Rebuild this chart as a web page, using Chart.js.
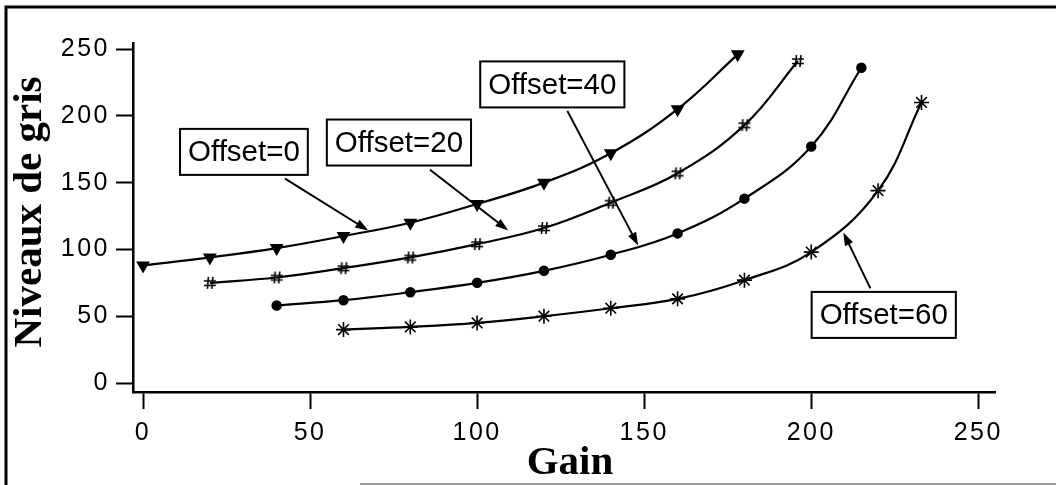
<!DOCTYPE html>
<html>
<head>
<meta charset="utf-8">
<script src="https://cdn.jsdelivr.net/npm/chart.js@4/dist/chart.umd.min.js"></script>
<style>
  html, body { margin: 0; padding: 0; background: #fff; }
  #wrap { width: 1056px; height: 485px; position: relative; }
</style>
</head>
<body>
<div id="wrap"><canvas id="myChart" width="1056" height="485"></canvas></div>
<script>
// values
const gain0 = [0, 20, 40, 60, 80, 100, 120, 140, 160, 178];
const niv0 = [88, 94, 101, 110, 120, 134, 150, 172, 205, 246];
const gain20 = [20, 40, 60, 80, 100, 120, 140, 160, 180, 196];
const niv20 = [75, 79, 86, 94, 104, 116, 135, 157, 193, 241];
const gain40 = [40, 60, 80, 100, 120, 140, 160, 180, 200, 215];
const niv40 = [58, 62, 68, 75, 84, 96, 112, 138, 177, 236];
const gain60 = [60, 80, 100, 120, 140, 160, 180, 200, 220, 233];
const niv60 = [40, 42, 45, 50, 56, 63, 77, 98, 144, 210];
const xTicks = [0, 50, 100, 150, 200, 250];
const yTicks = [0, 50, 100, 150, 200, 250];

// callout labels: box centre and arrow, in data units
const callouts = [
  { text: 'Offset=0',  cx: 30.2,  cy: 173,   from: [42.5, 153],   to: [67.4, 114.2] },
  { text: 'Offset=20', cx: 76.6,  cy: 180,   from: [85.9, 159.7], to: [109.3, 114.2] },
  { text: 'Offset=40', cx: 122.5, cy: 223.5, from: [127, 203.7],  to: [148.2, 103] },
  { text: 'Offset=60', cx: 221.7, cy: 51,    from: [217.7, 70.9], to: [209.6, 112.7] }
];

function toPoints(xs, ys) {
  return xs.map((x, i) => ({ x: x, y: ys[i] }));
}

function hashMarker() {
  const c = document.createElement('canvas');
  c.width = 14; c.height = 14;
  const g = c.getContext('2d');
  g.strokeStyle = '#000';
  g.lineWidth = 1.6;
  g.beginPath();
  g.moveTo(5.5, 1); g.lineTo(4.5, 13);
  g.moveTo(10, 1); g.lineTo(9, 13);
  g.moveTo(1, 5); g.lineTo(13, 5);
  g.moveTo(1, 9.5); g.lineTo(13, 9.5);
  g.stroke();
  return c;
}

function series(xs, ys, style) {
  return Object.assign({
    data: toPoints(xs, ys),
    borderColor: '#000',
    backgroundColor: '#000',
    borderWidth: 2.2,
    tension: 0.4,
    pointBorderColor: '#000',
    pointBackgroundColor: '#000',
    pointBorderWidth: 1.5
  }, style);
}

const decor = {
  id: 'decor',
  beforeDraw(chart) {
    chart.ctx.letterSpacing = '2.5px';
  },
  afterDraw(chart) {
    const ctx = chart.ctx;
    const sx = chart.scales.x, sy = chart.scales.y;
    ctx.save();
    ctx.letterSpacing = '0px';

    // frame around the figure
    ctx.strokeStyle = '#000';
    ctx.lineWidth = 3;
    ctx.beginPath();
    ctx.moveTo(6, 485); ctx.lineTo(6, 7); ctx.lineTo(1056, 7);
    ctx.stroke();
    ctx.strokeStyle = '#999';
    ctx.lineWidth = 2;
    ctx.beginPath();
    ctx.moveTo(360, 484); ctx.lineTo(1056, 484);
    ctx.stroke();

    // axis titles
    ctx.fillStyle = '#000';
    ctx.font = 'bold 41px "Liberation Serif", "Times New Roman", serif';
    ctx.textAlign = 'center';
    ctx.textBaseline = 'alphabetic';
    ctx.fillText('Gain', 570, 474);
    ctx.save();
    ctx.translate(41, 212);
    ctx.rotate(-Math.PI / 2);
    ctx.fillText('Niveaux de gris', 0, 0);
    ctx.restore();

    // callouts
    ctx.font = '29.5px "Liberation Sans", Arial, sans-serif';
    callouts.forEach(c => {
      const px = sx.getPixelForValue(c.cx), py = sy.getPixelForValue(c.cy);
      const w = ctx.measureText(c.text).width + 16, h = 46;
      ctx.fillStyle = '#fff';
      ctx.fillRect(px - w / 2, py - h / 2, w, h);
      ctx.strokeStyle = '#000';
      ctx.lineWidth = 2;
      ctx.strokeRect(px - w / 2, py - h / 2, w, h);
      ctx.fillStyle = '#000';
      ctx.textBaseline = 'middle';
      ctx.fillText(c.text, px, py + 1);

      const x1 = sx.getPixelForValue(c.from[0]), y1 = sy.getPixelForValue(c.from[1]);
      const x2 = sx.getPixelForValue(c.to[0]), y2 = sy.getPixelForValue(c.to[1]);
      const a = Math.atan2(y2 - y1, x2 - x1);
      ctx.lineWidth = 2;
      ctx.beginPath();
      ctx.moveTo(x1, y1); ctx.lineTo(x2 - 8 * Math.cos(a), y2 - 8 * Math.sin(a));
      ctx.stroke();
      ctx.beginPath();
      ctx.moveTo(x2, y2);
      ctx.lineTo(x2 - 13 * Math.cos(a) + 4.5 * Math.sin(a), y2 - 13 * Math.sin(a) - 4.5 * Math.cos(a));
      ctx.lineTo(x2 - 13 * Math.cos(a) - 4.5 * Math.sin(a), y2 - 13 * Math.sin(a) + 4.5 * Math.cos(a));
      ctx.closePath();
      ctx.fill();
    });
    ctx.restore();
  }
};

const tickFont = { family: '"Liberation Sans", Arial, sans-serif', size: 25 };

const ctx = document.getElementById('myChart').getContext('2d');
new Chart(ctx, {
  type: 'line',
  data: {
    datasets: [
      series(gain0, niv0, { label: 'Offset=0', pointStyle: 'triangle', rotation: 180, pointRadius: 6.5 }),
      series(gain20, niv20, { label: 'Offset=20', pointStyle: hashMarker(), pointRadius: 7 }),
      series(gain40, niv40, { label: 'Offset=40', pointStyle: 'circle', pointRadius: 4.5 }),
      series(gain60, niv60, { label: 'Offset=60', pointStyle: 'star', pointRadius: 7.5, pointBorderWidth: 1.6 })
    ]
  },
  options: {
    responsive: false,
    animation: false,
    layout: { padding: { top: 43, right: 61, left: 0, bottom: 0 } },
    plugins: { legend: { display: false }, tooltip: { enabled: false } },
    scales: {
      x: {
        type: 'linear',
        min: -3,
        max: 255,
        afterBuildTicks: (scale) => { scale.ticks = xTicks.map(v => ({ value: v })); },
        afterFit: (scale) => { scale.height = 93; },
        grid: { drawOnChartArea: false, drawTicks: true, tickLength: 17, tickColor: '#000', tickWidth: 2 },
        border: { color: '#000', width: 2.5 },
        ticks: { color: '#000', font: tickFont, padding: 9, maxRotation: 0 }
      },
      y: {
        type: 'linear',
        min: -6.7,
        max: 254.5,
        afterBuildTicks: (scale) => { scale.ticks = yTicks.map(v => ({ value: v })); },
        afterFit: (scale) => { scale.width = 133; },
        grid: { drawOnChartArea: false, drawTicks: true, tickLength: 17, tickColor: '#000', tickWidth: 2 },
        border: { color: '#000', width: 2.5 },
        ticks: { color: '#000', font: tickFont, padding: 6 }
      }
    }
  },
  plugins: [decor]
});
</script>
</body>
</html>
